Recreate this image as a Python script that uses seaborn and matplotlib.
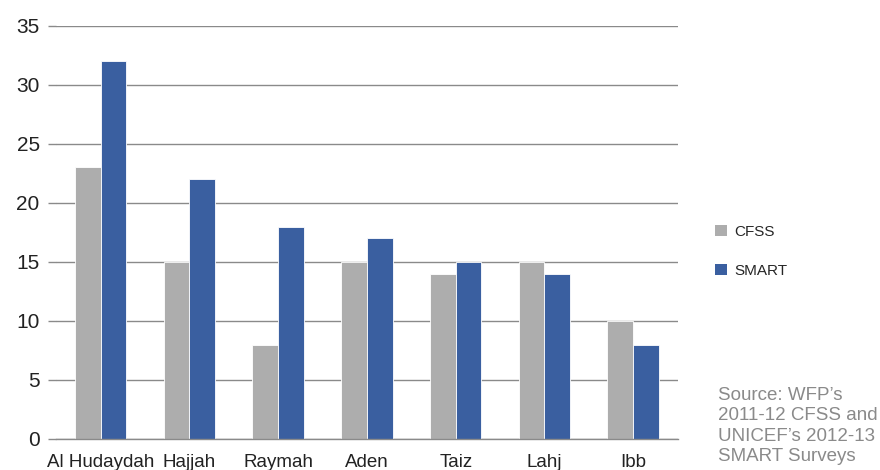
import matplotlib
matplotlib.use('Agg')
import matplotlib.pyplot as plt
import pandas as pd
import numpy as np
import seaborn as sns
from matplotlib.patches import Patch

sns.set_style("white")
plt.rcParams['font.family'] = ['Liberation Sans', 'DejaVu Sans']

regions = ['Al Hudaydah', 'Hajjah', 'Raymah', 'Aden', 'Taiz', 'Lahj', 'Ibb']
cfss = [23, 15, 8, 15, 14, 15, 10]
smart = [32, 22, 18, 17, 15, 14, 8]
series = ['CFSS', 'SMART']
colors = ['#adadad', '#3a5fa0']

df = pd.DataFrame({
    'region': regions * 2,
    'survey': ['CFSS'] * len(regions) + ['SMART'] * len(regions),
    'value': cfss + smart,
})

fig = plt.figure(figsize=(8.8, 4.7), dpi=100)
ax = fig.add_axes([0.064, 0.066, 0.706, 0.879])

sns.barplot(data=df, x='region', y='value', hue='survey', order=regions,
            hue_order=series, palette=colors, width=0.58, saturation=1,
            edgecolor='white', linewidth=0.6, ax=ax, legend=False)

ax.set_ylim(0, 35)
ax.set_xlim(-0.5, len(regions) - 0.5)
ax.set_yticks(np.arange(0, 36, 5))
ax.yaxis.grid(True, color='#8a8a8a', linewidth=1)
ax.set_axisbelow(True)
ax.set_xlabel('')
ax.set_ylabel('')

for s in ['top', 'right', 'left']:
    ax.spines[s].set_visible(False)
ax.spines['bottom'].set_color('#8a8a8a')
ax.spines['bottom'].set_linewidth(1)

# category boundary ticks on the x axis
ax.set_xticks(np.arange(-0.5, len(regions)), minor=True)
ax.tick_params(axis='x', which='minor', length=6, color='#8a8a8a', width=1, direction='out')
ax.tick_params(axis='x', which='major', length=0, pad=11, labelsize=13.5, colors='#222222')
ax.tick_params(axis='y', length=6, color='#8a8a8a', width=1, labelsize=15,
               colors='#222222', left=True, pad=6)

handles = [Patch(facecolor=c, edgecolor='none') for c in colors]
fig.legend(handles, series, loc='center left', bbox_to_anchor=(0.797, 0.465),
           frameon=False, fontsize=11, handlelength=0.75, handleheight=0.75,
           labelspacing=1.65, handletextpad=0.5)

fig.text(0.816, 0.01, "Source: WFP\u2019s\n2011-12 CFSS and\nUNICEF\u2019s 2012-13\nSMART Surveys",
         fontsize=13.5, color='#8a8a8a', va='bottom', ha='left', linespacing=1.27)

fig.savefig('out.png', dpi=100)
